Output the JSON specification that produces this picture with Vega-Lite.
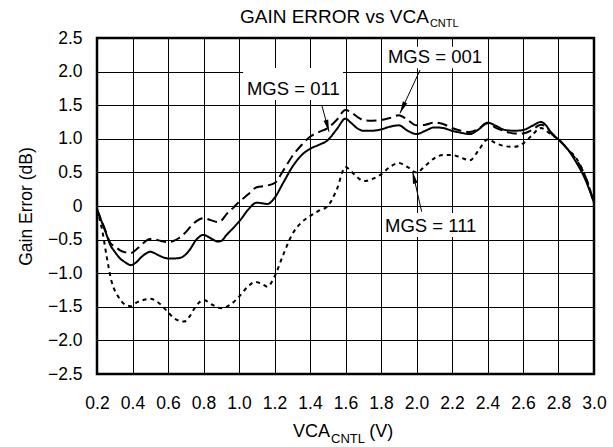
{
  "$schema": "https://vega.github.io/schema/vega-lite/v6.json",
  "autosize": {"type": "none"},
  "width": 497,
  "height": 336,
  "padding": {"left": 97, "top": 38, "right": 19, "bottom": 73},
  "background": "white",
  "config": {
    "view": {"stroke": "#000", "strokeWidth": 2.5},
    "axis": {"labelFont": "Liberation Sans", "titleFont": "Liberation Sans", "labelColor": "#000", "titleColor": "#000", "gridColor": "#000", "gridOpacity": 1, "gridWidth": 1, "domain": false, "ticks": false, "tickSize": 0, "titleFontWeight": "normal"},
    "text": {"font": "Liberation Sans", "color": "#000"}
  },
  "datasets": {
    "curves": [
      {"s":"MGS = 011","v":0.2,"g":-0.05},{"s":"MGS = 011","v":0.25,"g":-0.4},{"s":"MGS = 011","v":0.275,"g":-0.58},{"s":"MGS = 011","v":0.3,"g":-0.68},{"s":"MGS = 011","v":0.33,"g":-0.78},{"s":"MGS = 011","v":0.36,"g":-0.84},{"s":"MGS = 011","v":0.39,"g":-0.88},{"s":"MGS = 011","v":0.42,"g":-0.84},{"s":"MGS = 011","v":0.45,"g":-0.76},{"s":"MGS = 011","v":0.48,"g":-0.7},{"s":"MGS = 011","v":0.5,"g":-0.68},{"s":"MGS = 011","v":0.53,"g":-0.71},{"s":"MGS = 011","v":0.56,"g":-0.75},{"s":"MGS = 011","v":0.6,"g":-0.78},{"s":"MGS = 011","v":0.64,"g":-0.78},{"s":"MGS = 011","v":0.67,"g":-0.77},{"s":"MGS = 011","v":0.7,"g":-0.72},{"s":"MGS = 011","v":0.72,"g":-0.66},{"s":"MGS = 011","v":0.76,"g":-0.5},{"s":"MGS = 011","v":0.8,"g":-0.43},{"s":"MGS = 011","v":0.84,"g":-0.48},{"s":"MGS = 011","v":0.88,"g":-0.53},{"s":"MGS = 011","v":0.9,"g":-0.52},{"s":"MGS = 011","v":0.93,"g":-0.43},{"s":"MGS = 011","v":0.97,"g":-0.32},{"s":"MGS = 011","v":1.01,"g":-0.2},{"s":"MGS = 011","v":1.05,"g":-0.06},{"s":"MGS = 011","v":1.1,"g":0.05},{"s":"MGS = 011","v":1.13,"g":0.04},{"s":"MGS = 011","v":1.16,"g":0.03},{"s":"MGS = 011","v":1.2,"g":0.12},{"s":"MGS = 011","v":1.25,"g":0.35},{"s":"MGS = 011","v":1.3,"g":0.58},{"s":"MGS = 011","v":1.35,"g":0.75},{"s":"MGS = 011","v":1.4,"g":0.85},{"s":"MGS = 011","v":1.45,"g":0.91},{"s":"MGS = 011","v":1.5,"g":0.98},{"s":"MGS = 011","v":1.55,"g":1.14},{"s":"MGS = 011","v":1.6,"g":1.3},{"s":"MGS = 011","v":1.63,"g":1.24},{"s":"MGS = 011","v":1.67,"g":1.15},{"s":"MGS = 011","v":1.7,"g":1.12},{"s":"MGS = 011","v":1.75,"g":1.12},{"s":"MGS = 011","v":1.8,"g":1.14},{"s":"MGS = 011","v":1.85,"g":1.18},{"s":"MGS = 011","v":1.9,"g":1.2},{"s":"MGS = 011","v":1.95,"g":1.12},{"s":"MGS = 011","v":2.0,"g":1.07},{"s":"MGS = 011","v":2.05,"g":1.12},{"s":"MGS = 011","v":2.1,"g":1.17},{"s":"MGS = 011","v":2.15,"g":1.16},{"s":"MGS = 011","v":2.2,"g":1.12},{"s":"MGS = 011","v":2.25,"g":1.09},{"s":"MGS = 011","v":2.3,"g":1.07},{"s":"MGS = 011","v":2.35,"g":1.14},{"s":"MGS = 011","v":2.4,"g":1.24},{"s":"MGS = 011","v":2.45,"g":1.19},{"s":"MGS = 011","v":2.5,"g":1.13},{"s":"MGS = 011","v":2.55,"g":1.12},{"s":"MGS = 011","v":2.6,"g":1.13},{"s":"MGS = 011","v":2.65,"g":1.19},{"s":"MGS = 011","v":2.7,"g":1.25},{"s":"MGS = 011","v":2.73,"g":1.2},{"s":"MGS = 011","v":2.76,"g":1.08},{"s":"MGS = 011","v":2.8,"g":0.99},{"s":"MGS = 011","v":2.85,"g":0.85},{"s":"MGS = 011","v":2.9,"g":0.65},{"s":"MGS = 011","v":2.95,"g":0.4},{"s":"MGS = 011","v":3.0,"g":0.05},
      {"s":"MGS = 001","v":0.2,"g":-0.05},{"s":"MGS = 001","v":0.25,"g":-0.38},{"s":"MGS = 001","v":0.275,"g":-0.55},{"s":"MGS = 001","v":0.3,"g":-0.6},{"s":"MGS = 001","v":0.33,"g":-0.66},{"s":"MGS = 001","v":0.36,"g":-0.69},{"s":"MGS = 001","v":0.39,"g":-0.7},{"s":"MGS = 001","v":0.42,"g":-0.65},{"s":"MGS = 001","v":0.45,"g":-0.58},{"s":"MGS = 001","v":0.48,"g":-0.51},{"s":"MGS = 001","v":0.5,"g":-0.49},{"s":"MGS = 001","v":0.53,"g":-0.5},{"s":"MGS = 001","v":0.56,"g":-0.52},{"s":"MGS = 001","v":0.6,"g":-0.54},{"s":"MGS = 001","v":0.63,"g":-0.52},{"s":"MGS = 001","v":0.66,"g":-0.48},{"s":"MGS = 001","v":0.7,"g":-0.39},{"s":"MGS = 001","v":0.74,"g":-0.27},{"s":"MGS = 001","v":0.8,"g":-0.18},{"s":"MGS = 001","v":0.84,"g":-0.21},{"s":"MGS = 001","v":0.88,"g":-0.24},{"s":"MGS = 001","v":0.9,"g":-0.22},{"s":"MGS = 001","v":0.93,"g":-0.12},{"s":"MGS = 001","v":0.97,"g":-0.02},{"s":"MGS = 001","v":1.0,"g":0.06},{"s":"MGS = 001","v":1.05,"g":0.17},{"s":"MGS = 001","v":1.1,"g":0.28},{"s":"MGS = 001","v":1.15,"g":0.3},{"s":"MGS = 001","v":1.2,"g":0.34},{"s":"MGS = 001","v":1.25,"g":0.53},{"s":"MGS = 001","v":1.3,"g":0.74},{"s":"MGS = 001","v":1.35,"g":0.9},{"s":"MGS = 001","v":1.4,"g":1.03},{"s":"MGS = 001","v":1.45,"g":1.1},{"s":"MGS = 001","v":1.5,"g":1.16},{"s":"MGS = 001","v":1.55,"g":1.28},{"s":"MGS = 001","v":1.6,"g":1.43},{"s":"MGS = 001","v":1.63,"g":1.4},{"s":"MGS = 001","v":1.67,"g":1.32},{"s":"MGS = 001","v":1.7,"g":1.28},{"s":"MGS = 001","v":1.75,"g":1.27},{"s":"MGS = 001","v":1.8,"g":1.28},{"s":"MGS = 001","v":1.85,"g":1.31},{"s":"MGS = 001","v":1.9,"g":1.35},{"s":"MGS = 001","v":1.95,"g":1.28},{"s":"MGS = 001","v":2.0,"g":1.2},{"s":"MGS = 001","v":2.05,"g":1.21},{"s":"MGS = 001","v":2.1,"g":1.24},{"s":"MGS = 001","v":2.15,"g":1.22},{"s":"MGS = 001","v":2.2,"g":1.16},{"s":"MGS = 001","v":2.25,"g":1.12},{"s":"MGS = 001","v":2.3,"g":1.1},{"s":"MGS = 001","v":2.35,"g":1.15},{"s":"MGS = 001","v":2.4,"g":1.23},{"s":"MGS = 001","v":2.45,"g":1.16},{"s":"MGS = 001","v":2.5,"g":1.11},{"s":"MGS = 001","v":2.55,"g":1.08},{"s":"MGS = 001","v":2.6,"g":1.08},{"s":"MGS = 001","v":2.65,"g":1.13},{"s":"MGS = 001","v":2.7,"g":1.21},{"s":"MGS = 001","v":2.73,"g":1.18},{"s":"MGS = 001","v":2.76,"g":1.09},{"s":"MGS = 001","v":2.8,"g":0.99},{"s":"MGS = 001","v":2.85,"g":0.85},{"s":"MGS = 001","v":2.9,"g":0.69},{"s":"MGS = 001","v":2.95,"g":0.45},{"s":"MGS = 001","v":3.0,"g":0.05},
      {"s":"MGS = 111","v":0.2,"g":-0.05},{"s":"MGS = 111","v":0.23,"g":-0.37},{"s":"MGS = 111","v":0.255,"g":-0.76},{"s":"MGS = 111","v":0.28,"g":-1.1},{"s":"MGS = 111","v":0.32,"g":-1.35},{"s":"MGS = 111","v":0.36,"g":-1.47},{"s":"MGS = 111","v":0.39,"g":-1.49},{"s":"MGS = 111","v":0.42,"g":-1.44},{"s":"MGS = 111","v":0.46,"g":-1.4},{"s":"MGS = 111","v":0.5,"g":-1.38},{"s":"MGS = 111","v":0.53,"g":-1.41},{"s":"MGS = 111","v":0.56,"g":-1.47},{"s":"MGS = 111","v":0.6,"g":-1.58},{"s":"MGS = 111","v":0.64,"g":-1.68},{"s":"MGS = 111","v":0.69,"g":-1.72},{"s":"MGS = 111","v":0.72,"g":-1.65},{"s":"MGS = 111","v":0.75,"g":-1.52},{"s":"MGS = 111","v":0.8,"g":-1.4},{"s":"MGS = 111","v":0.85,"g":-1.47},{"s":"MGS = 111","v":0.9,"g":-1.52},{"s":"MGS = 111","v":0.95,"g":-1.47},{"s":"MGS = 111","v":1.0,"g":-1.35},{"s":"MGS = 111","v":1.05,"g":-1.2},{"s":"MGS = 111","v":1.09,"g":-1.13},{"s":"MGS = 111","v":1.13,"g":-1.16},{"s":"MGS = 111","v":1.16,"g":-1.2},{"s":"MGS = 111","v":1.2,"g":-1.05},{"s":"MGS = 111","v":1.25,"g":-0.72},{"s":"MGS = 111","v":1.3,"g":-0.42},{"s":"MGS = 111","v":1.35,"g":-0.25},{"s":"MGS = 111","v":1.4,"g":-0.15},{"s":"MGS = 111","v":1.45,"g":-0.07},{"s":"MGS = 111","v":1.5,"g":0.0},{"s":"MGS = 111","v":1.55,"g":0.24},{"s":"MGS = 111","v":1.6,"g":0.58},{"s":"MGS = 111","v":1.63,"g":0.52},{"s":"MGS = 111","v":1.67,"g":0.42},{"s":"MGS = 111","v":1.7,"g":0.37},{"s":"MGS = 111","v":1.75,"g":0.4},{"s":"MGS = 111","v":1.8,"g":0.47},{"s":"MGS = 111","v":1.85,"g":0.58},{"s":"MGS = 111","v":1.9,"g":0.64},{"s":"MGS = 111","v":1.95,"g":0.58},{"s":"MGS = 111","v":2.0,"g":0.5},{"s":"MGS = 111","v":2.05,"g":0.6},{"s":"MGS = 111","v":2.1,"g":0.71},{"s":"MGS = 111","v":2.15,"g":0.76},{"s":"MGS = 111","v":2.2,"g":0.76},{"s":"MGS = 111","v":2.25,"g":0.72},{"s":"MGS = 111","v":2.3,"g":0.68},{"s":"MGS = 111","v":2.35,"g":0.83},{"s":"MGS = 111","v":2.4,"g":0.99},{"s":"MGS = 111","v":2.45,"g":0.93},{"s":"MGS = 111","v":2.5,"g":0.89},{"s":"MGS = 111","v":2.55,"g":0.88},{"s":"MGS = 111","v":2.6,"g":0.93},{"s":"MGS = 111","v":2.65,"g":1.05},{"s":"MGS = 111","v":2.7,"g":1.16},{"s":"MGS = 111","v":2.75,"g":1.08},{"s":"MGS = 111","v":2.8,"g":0.99},{"s":"MGS = 111","v":2.85,"g":0.85},{"s":"MGS = 111","v":2.9,"g":0.71},{"s":"MGS = 111","v":2.95,"g":0.45},{"s":"MGS = 111","v":3.0,"g":0.05}
    ],
    "notes": [
      {"label":"MGS = 001","tx":2.104,"ty":2.124,"bx1":1.823,"bx2":2.375,"by1":2.37,"by2":2.049,"ax1":2.02,"ay1":2.024,"ax2":1.907,"ay2":1.38,"angle":205},
      {"label":"MGS = 011","tx":1.306,"ty":1.652,"bx1":1.023,"bx2":1.586,"by1":2.054,"by2":1.577,"ax1":1.466,"ay1":1.503,"ax2":1.507,"ay2":1.106,"angle":165},
      {"label":"MGS = 111","tx":2.08,"ty":-0.382,"bx1":1.806,"bx2":2.358,"by1":-0.104,"by2":-0.461,"ax1":2.029,"ay1":-0.085,"ax2":1.978,"ay2":0.511,"angle":347}
    ]
  },
  "layer": [
    {
      "data": {"name": "curves"},
      "mark": {"type": "line", "interpolate": "monotone", "color": "#000", "strokeWidth": 2},
      "encoding": {
        "x": {"field": "v", "type": "quantitative", "scale": {"domain": [0.2, 3.0], "nice": false, "zero": false},
          "axis": {"values": [0.2,0.4,0.6,0.8,1.0,1.2,1.4,1.6,1.8,2.0,2.2,2.4,2.6,2.8,3.0], "tickCount": 15, "format": ".1f", "grid": true, "labelFontSize": 17.5, "labelPadding": 20, "labelFlush": false, "labelOverlap": false, "labelBound": false, "title": null}},
        "y": {"field": "g", "type": "quantitative", "scale": {"domain": [-2.5, 2.5], "nice": false, "zero": false},
          "axis": {"values": [-2.5,-2,-1.5,-1,-0.5,0,0.5,1,1.5,2,2.5], "tickCount": 11, "labelExpr": "datum.value == 0 ? '0' : replace(format(datum.value, '.1f'), '-', '\u2212')", "grid": true, "labelFontSize": 17.5, "labelPadding": 15, "labelFlush": false, "labelOverlap": false, "labelBound": false, "title": "Gain Error (dB)", "titleFontSize": 17.5, "titlePadding": 12}},
        "strokeDash": {"field": "s", "type": "nominal", "scale": {"domain": ["MGS = 001", "MGS = 011", "MGS = 111"], "range": [[10, 5], [1, 0], [4, 4]]}, "legend": null}
      }
    },
    {
      "data": {"name": "notes"},
      "mark": {"type": "rect", "fill": "white"},
      "encoding": {
        "x": {"field": "bx1", "type": "quantitative"},
        "x2": {"field": "bx2"},
        "y": {"field": "by1", "type": "quantitative"},
        "y2": {"field": "by2"}
      }
    },
    {
      "data": {"name": "notes"},
      "mark": {"type": "text", "fontSize": 18.5, "align": "center", "baseline": "alphabetic"},
      "encoding": {
        "x": {"field": "tx", "type": "quantitative"},
        "y": {"field": "ty", "type": "quantitative"},
        "text": {"field": "label"}
      }
    },
    {
      "data": {"name": "notes"},
      "mark": {"type": "rule", "color": "#000", "strokeWidth": 1},
      "encoding": {
        "x": {"field": "ax1", "type": "quantitative"},
        "y": {"field": "ay1", "type": "quantitative"},
        "x2": {"field": "ax2"},
        "y2": {"field": "ay2"}
      }
    },
    {
      "data": {"name": "notes"},
      "mark": {"type": "point", "shape": "M0,0L-0.4,2L0.4,2Z", "filled": true, "color": "#000", "opacity": 1, "size": 144},
      "encoding": {
        "x": {"field": "ax2", "type": "quantitative"},
        "y": {"field": "ay2", "type": "quantitative"},
        "angle": {"field": "angle", "type": "quantitative", "scale": null}
      }
    },
    {
      "data": {"values": [{}]},
      "mark": {"type": "text", "text": "GAIN ERROR vs VCA", "fontSize": 19, "align": "right", "baseline": "alphabetic"},
      "encoding": {"x": {"datum": 2.07}, "y": {"datum": 2.728}}
    },
    {
      "data": {"values": [{}]},
      "mark": {"type": "text", "text": "CNTL", "fontSize": 11, "align": "left", "baseline": "alphabetic", "dx": 1, "dy": 4},
      "encoding": {"x": {"datum": 2.07}, "y": {"datum": 2.728}}
    },
    {
      "data": {"values": [{}]},
      "mark": {"type": "text", "text": "VCA", "fontSize": 18, "align": "right", "baseline": "alphabetic"},
      "encoding": {"x": {"datum": 1.513}, "y": {"datum": -3.433}}
    },
    {
      "data": {"values": [{}]},
      "mark": {"type": "text", "text": "CNTL", "fontSize": 13, "align": "left", "baseline": "alphabetic", "dx": 1, "dy": 6},
      "encoding": {"x": {"datum": 1.513}, "y": {"datum": -3.433}}
    },
    {
      "data": {"values": [{}]},
      "mark": {"type": "text", "text": "(V)", "fontSize": 18, "align": "left", "baseline": "alphabetic"},
      "encoding": {"x": {"datum": 1.734}, "y": {"datum": -3.433}}
    }
  ]
}
